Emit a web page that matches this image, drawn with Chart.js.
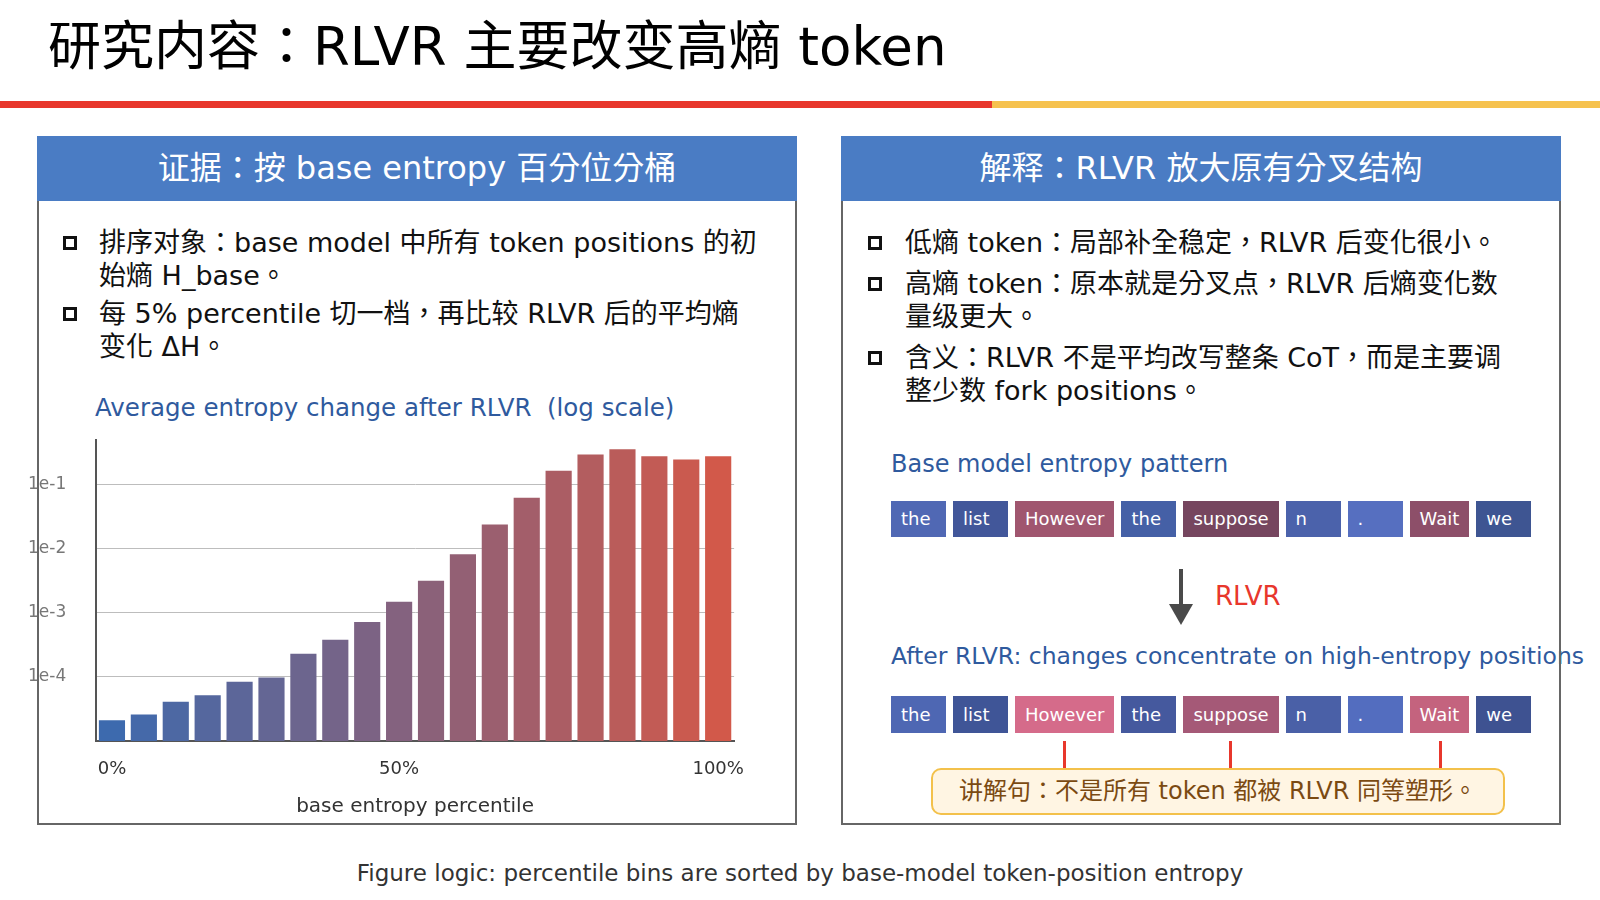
<!DOCTYPE html>
<html>
<head>
<meta charset="utf-8">
<script src="https://cdn.jsdelivr.net/npm/chart.js@4/dist/chart.umd.min.js"></script>
<style>
  html, body { margin:0; padding:0; background:#fff; }
  body { width:1600px; height:900px; position:relative; overflow:hidden;
         font-family:"DejaVu Sans","Noto Sans CJK TC",sans-serif; color:#111; }
  .abs { position:absolute; white-space:nowrap; }
  #title { left:48px; top:19px; font-size:53px; line-height:56px; color:#000; }
  .bar-red { left:0; top:101px; width:992px; height:7px; background:#E8372C; }
  .bar-yel { left:992px; top:101px; width:608px; height:7px; background:#F6C24E; }
  .panel { position:absolute; top:136px; height:689px; box-sizing:border-box;
           border:2px solid #666; z-index:3; pointer-events:none; }
  .panel .hdr { position:absolute; left:-2px; right:-2px; top:-2px; height:65px;
           background:#4A7CC4; color:#fff; font-size:32px; line-height:65px; text-align:center; }
  .bul { position:absolute; font-size:27px; line-height:32.5px; color:#111; white-space:nowrap; }
  .sq { position:absolute; width:8px; height:8px; border:3px solid #111; }
  .blue { color:#2F5A9E; }
  .tok { display:inline-block; box-sizing:border-box; min-width:55px; padding:0 10px;
         color:#fff; font-size:18px; margin-right:7px; }
  #chartWrap { position:absolute; left:28px; top:430px; width:734px; height:390px; z-index:1; }
</style>
</head>
<body>
<div id="title" class="abs">研究内容：RLVR 主要改变高熵 token</div>
<div class="abs bar-red"></div>
<div class="abs bar-yel"></div>

<!-- Left panel -->
<div class="panel" style="left:37px; width:760px;">
  <div class="hdr">证据：按 base entropy 百分位分桶</div>
</div>
<div class="sq" style="left:63px; top:236px;"></div>
<div class="bul" style="left:99px; top:227px;">排序对象：base model 中所有 token positions 的初<br>始熵 H_base。</div>
<div class="sq" style="left:63px; top:307px;"></div>
<div class="bul" style="left:99px; top:298px;">每 5% percentile 切一档，再比较 RLVR 后的平均熵<br>变化 ΔH。</div>
<div class="abs blue" style="left:95px; top:394px; font-size:24.5px; line-height:28px;">Average entropy change after RLVR&nbsp; (log scale)</div>
<div id="chartWrap"><canvas id="c" width="734" height="390"></canvas></div>

<!-- Right panel -->
<div class="panel" style="left:841px; width:720px;">
  <div class="hdr">解释：RLVR 放大原有分叉结构</div>
</div>
<div class="sq" style="left:868px; top:236px;"></div>
<div class="bul" style="left:905px; top:227px;">低熵 token：局部补全稳定，RLVR 后变化很小。</div>
<div class="sq" style="left:868px; top:277px;"></div>
<div class="bul" style="left:905px; top:268px;">高熵 token：原本就是分叉点，RLVR 后熵变化数<br>量级更大。</div>
<div class="sq" style="left:868px; top:351px;"></div>
<div class="bul" style="left:905px; top:342px;">含义：RLVR 不是平均改写整条 CoT，而是主要调<br>整少数 fork positions。</div>

<div class="abs blue" style="left:891px; top:450px; font-size:24px; line-height:28px;">Base model entropy pattern</div>
<div id="row1" class="abs" style="left:891px; top:501px; height:36px; line-height:36px;"></div>

<div class="abs" style="left:1179px; top:569px; width:4px; height:38px; background:#4a4a4a;"></div>
<div class="abs" style="left:1169px; top:604px; width:0; height:0; border-left:12px solid transparent; border-right:12px solid transparent; border-top:21px solid #4a4a4a;"></div>
<div class="abs" style="left:1215px; top:581px; font-size:26px; line-height:30px; color:#E8372C;">RLVR</div>

<div class="abs blue" style="left:891px; top:642px; font-size:23.5px; line-height:28px; z-index:2;">After RLVR: changes concentrate on high-entropy positions</div>
<div id="row2" class="abs" style="left:891px; top:696px; height:37px; line-height:37px;"></div>
<div id="connectors"></div>
<div class="abs" style="left:931px; top:768px; width:574px; height:47px; box-sizing:border-box; background:#FFF5E3; border:2px solid #F3C14B; border-radius:10px; text-align:center; font-size:24px; line-height:43px; color:#7B4A12;">讲解句：不是所有 token 都被 RLVR 同等塑形。</div>

<div class="abs" style="left:0; width:1600px; top:859px; text-align:center; font-size:23px; line-height:28px; color:#333;">Figure logic: percentile bins are sorted by base-model token-position entropy</div>

<script>
// ---------- Data ----------
const percentileBins = ['0–5%','5–10%','10–15%','15–20%','20–25%','25–30%','30–35%','35–40%','40–45%','45–50%',
                        '50–55%','55–60%','60–65%','65–70%','70–75%','75–80%','80–85%','85–90%','90–95%','95–100%'];
const avgEntropyChange = [2.1e-5, 2.6e-5, 4.1e-5, 5.2e-5, 8.4e-5, 9.8e-5, 2.3e-4, 3.8e-4, 7.2e-4, 1.5e-3,
                          3.2e-3, 8.3e-3, 2.4e-2, 6.3e-2, 0.166, 0.30, 0.36, 0.28, 0.25, 0.28];
const yTickValues = [1e-4, 1e-3, 1e-2, 1e-1];
const yTickLabels = ['1e-4', '1e-3', '1e-2', '1e-1'];
const xTickIndex = [0, 9, 19];
const xTickLabels = ['0%', '50%', '100%'];
const tokens = ['the', 'list', 'However', 'the', 'suppose', 'n', '.', 'Wait', 'we'];
const highlightedTokens = [2, 4, 7];

// ---------- Styles ----------
const baseTokenColors = ['#5068B4','#42579A','#A0566F','#4560A6','#76465F','#4B62AB','#566FC0','#8D4F69','#3E5592'];
const afterTokenColors = ['#4E67B3','#3F5597','#D56B8A','#45599E','#A55977','#4A60A7','#536DBF','#C4637E','#3E5291'];

function buildRow(id, colors) {
  const row = document.getElementById(id);
  tokens.forEach((t, i) => {
    const s = document.createElement('span');
    s.className = 'tok';
    s.textContent = t;
    s.style.background = colors[i];
    row.appendChild(s);
  });
}
buildRow('row1', baseTokenColors);
buildRow('row2', afterTokenColors);
const row2 = document.getElementById('row2');
const conn = document.getElementById('connectors');
highlightedTokens.forEach(i => {
  const el = row2.children[i];
  const cx = row2.offsetLeft + el.offsetLeft + el.offsetWidth / 2;
  const d = document.createElement('div');
  d.className = 'abs';
  d.style.cssText = `left:${cx - 1.5}px; top:741px; width:3px; height:27px; background:#E8372C;`;
  conn.appendChild(d);
});

function lerpColor(a, b, t) {
  const pa = [1,3,5].map(k => parseInt(a.substr(k,2),16));
  const pb = [1,3,5].map(k => parseInt(b.substr(k,2),16));
  return 'rgb(' + pa.map((v,i) => Math.round(v + (pb[i]-v)*t)).join(',') + ')';
}
const barColors = avgEntropyChange.map((_, i) => lerpColor('#3D6AAE', '#D2594A', i / (avgEntropyChange.length - 1)));

Chart.defaults.font.family = '"DejaVu Sans","Noto Sans CJK TC",sans-serif';

new Chart(document.getElementById('c'), {
  type: 'bar',
  data: {
    labels: percentileBins,
    datasets: [{
      data: avgEntropyChange,
      backgroundColor: barColors,
      borderWidth: 0,
      barPercentage: 0.82,
      categoryPercentage: 1.0
    }]
  },
  options: {
    responsive: false,
    animation: false,
    devicePixelRatio: 1,
    layout: { padding: { top: 10, right: 4, left: 0, bottom: 0 } },
    plugins: { legend: { display: false }, tooltip: { enabled: false }, title: { display: false } },
    scales: {
      x: {
        grid: { display: false, drawTicks: false },
        border: { display: true, color: '#555', width: 2 },
        ticks: {
          autoSkip: false, maxRotation: 0, minRotation: 0, padding: 18,
          color: '#333', font: { size: 18 },
          callback: (v, i) => { const k = xTickIndex.indexOf(i); return k >= 0 ? xTickLabels[k] : ''; }
        },
        title: { display: true, text: 'base entropy percentile', color: '#333', font: { size: 20 }, padding: { top: 0, bottom: 1 } },
        afterFit: s => { s.height = 79; }
      },
      y: {
        type: 'logarithmic',
        min: 1e-5,
        max: 0.5,
        grid: { color: '#bdbdbd', lineWidth: 1, drawTicks: false },
        border: { display: true, color: '#555', width: 2 },
        afterBuildTicks: s => { s.ticks = yTickValues.map(v => ({ value: v })); },
        ticks: {
          crossAlign: 'far', color: '#777', font: { size: 17 }, padding: 0,
          callback: (v, i) => yTickLabels[i]
        },
        afterFit: s => { s.width = 68; }
      }
    }
  }
});
</script>
</body>
</html>
